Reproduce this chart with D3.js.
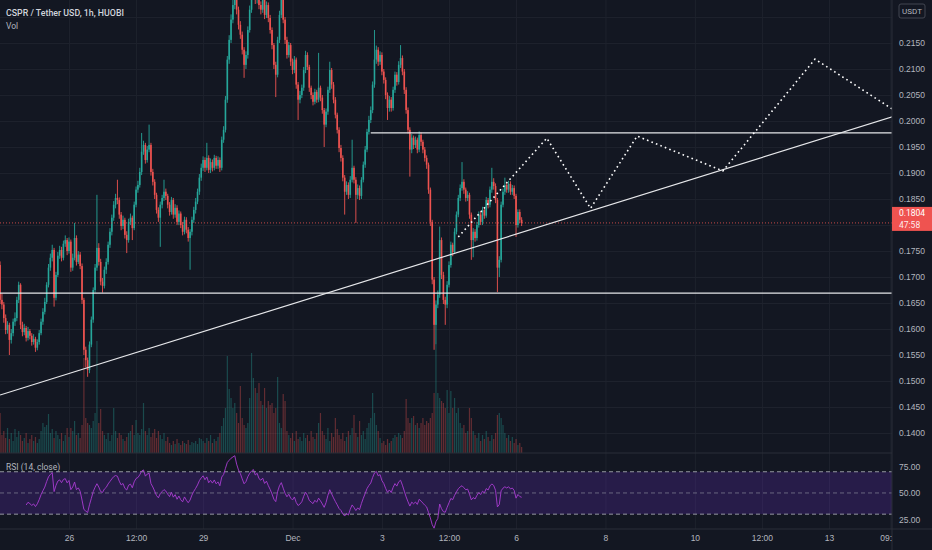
<!DOCTYPE html>
<html lang="en">
<head>
<meta charset="UTF-8">
<title>CSPR / Tether USD, 1h, HUOBI</title>
<style>
  *{margin:0;padding:0;box-sizing:border-box}
  html,body{width:100%;height:100%;background:#131722;overflow:hidden}
  svg{display:block;font-family:Roboto, "Trebuchet MS", sans-serif}
</style>
<script src="https://cdn.jsdelivr.net/npm/d3@7/dist/d3.min.js"></script>
</head>
<body>
<svg id="chart" width="932" height="550"></svg>
<script>
// ---- data: prices in units of 0.0001 USDT, one candle per hour ----
const candleStart = "2021-11-24T11:00:00Z";
const firstOpen = 1723;
const closes = [
  1656,1647,1621,1598,1608,1579,1592,1614,1621,1656,
  1685,1608,1594,1602,1583,1596,1587,1575,1581,1564,
  1575,1592,1614,1633,1652,1685,1718,1737,1752,1660,
  1704,1741,1752,1737,1764,1771,1750,1768,1718,1737,
  1775,1729,1743,1721,1656,1560,1540,1521,1570,1618,
  1675,1718,1756,1729,1691,1683,1714,1729,1762,1787,
  1814,1839,1852,1848,1820,1798,1810,1781,1771,1806,
  1814,1794,1839,1868,1877,1902,1941,1954,1925,1945,
  1954,1902,1883,1858,1829,1814,1839,1852,1864,1856,
  1839,1825,1848,1820,1833,1806,1822,1800,1787,1810,
  1791,1775,1787,1810,1829,1845,1864,1891,1910,1925,
  1910,1929,1906,1921,1910,1929,1914,1925,1910,1964,
  1983,2041,2118,2156,2195,2223,2252,2214,2185,2166,
  2137,2108,2127,2175,2214,2243,2262,2233,2252,2223,
  2214,2233,2204,2223,2198,2175,2146,2108,2089,2156,
  2204,2233,2195,2156,2127,2146,2114,2098,2118,2070,
  2041,2050,2064,2098,2127,2104,2064,2050,2037,2056,
  2041,2064,2045,2021,1993,2018,2060,2098,2070,2041,
  2012,1983,1948,1929,1891,1864,1877,1858,1887,1910,
  1887,1858,1871,1856,1887,1916,1945,1979,2002,2021,
  2070,2118,2137,2114,2127,2095,2079,2050,2025,2041,
  2025,2060,2089,2075,2108,2121,2095,2060,2021,1983,
  1945,1968,1954,1964,1945,1973,1960,1945,1929,1916,
  1868,1806,1695,1608,1647,1666,1771,1704,1656,1647,
  1685,1723,1762,1748,1787,1820,1852,1871,1883,1868,
  1852,1858,1820,1771,1787,1775,1800,1820,1806,1829,
  1818,1848,1839,1868,1883,1875,1848,1718,1733,1839,
  1864,1877,1868,1879,1864,1871,1856,1800,1825,1810,
  1804
];
const highs = [
  1730,1668,1652,1628,1615,1612,1600,1620,1632,1662,
  1691,1688,1614,1610,1606,1604,1600,1592,1590,1585,
  1580,1598,1620,1640,1660,1690,1725,1745,1762,1756,
  1710,1748,1760,1758,1770,1780,1775,1776,1772,1745,
  1804,1780,1750,1748,1726,1660,1566,1545,1576,1624,
  1680,1725,1858,1765,1735,1698,1720,1736,1768,1794,
  1820,1846,1860,1887,1853,1825,1818,1814,1788,1812,
  1822,1818,1845,1874,1885,1910,1977,1962,1958,1952,
  1993,1958,1908,1888,1862,1834,1845,1858,1887,1870,
  1860,1844,1854,1852,1840,1838,1828,1826,1806,1816,
  1815,1796,1792,1816,1835,1852,1870,1898,1918,1932,
  1930,1958,1934,1928,1926,1935,1933,1932,1930,1970,
  1990,2048,2125,2165,2205,2240,2270,2260,2220,2192,
  2172,2142,2134,2182,2222,2255,2280,2268,2262,2258,
  2230,2242,2238,2230,2228,2204,2180,2150,2114,2162,
  2212,2250,2240,2200,2162,2152,2150,2120,2125,2122,
  2075,2058,2070,2104,2135,2132,2108,2068,2055,2062,
  2060,2131,2068,2050,2025,2024,2066,2114,2102,2075,
  2046,2016,1988,1954,1934,1896,1884,1882,1894,1964,
  1914,1892,1878,1876,1892,1922,1952,1985,2010,2028,
  2076,2175,2145,2142,2134,2132,2100,2084,2055,2048,
  2046,2066,2095,2094,2115,2146,2126,2100,2065,2026,
  1988,1975,1972,1970,1968,1980,1978,1964,1950,1934,
  1920,1872,1810,1700,1655,1674,1797,1776,1710,1662,
  1692,1730,1768,1766,1794,1826,1858,1878,1921,1888,
  1872,1865,1862,1824,1794,1792,1806,1826,1825,1835,
  1834,1854,1852,1874,1910,1890,1880,1852,1740,1845,
  1870,1891,1882,1885,1884,1877,1876,1860,1830,1830,
  1815
];
const lows = [
  1648,1638,1612,1590,1591,1550,1572,1586,1606,1615,
  1650,1600,1586,1588,1576,1578,1580,1568,1570,1556,
  1559,1570,1588,1608,1628,1648,1680,1712,1730,1643,
  1655,1700,1735,1730,1732,1758,1742,1745,1710,1712,
  1732,1722,1725,1715,1648,1550,1526,1508,1515,1565,
  1612,1670,1712,1722,1684,1670,1678,1706,1724,1756,
  1780,1808,1832,1840,1812,1790,1792,1774,1746,1766,
  1800,1771,1790,1834,1862,1872,1896,1935,1918,1920,
  1940,1895,1876,1850,1822,1806,1758,1832,1846,1848,
  1832,1818,1820,1812,1814,1800,1800,1794,1780,1782,
  1784,1768,1714,1780,1804,1822,1840,1858,1885,1904,
  1902,1905,1900,1900,1903,1905,1908,1908,1902,1905,
  1958,1978,2035,2110,2150,2188,2215,2205,2176,2158,
  2128,2083,2100,2120,2170,2208,2236,2225,2226,2215,
  2205,2208,2196,2198,2190,2168,2138,2100,2046,2084,
  2150,2198,2188,2148,2120,2122,2106,2090,2092,2062,
  2002,2034,2044,2058,2092,2098,2056,2042,2030,2032,
  2035,2036,2038,2014,1950,1988,2012,2054,2062,2034,
  2005,1976,1940,1922,1884,1820,1858,1850,1852,1882,
  1880,1804,1850,1848,1850,1882,1910,1940,1974,1996,
  2015,2064,2110,2106,2108,2088,2072,2042,2002,2018,
  2018,2020,2054,2068,2070,2102,2088,2052,2014,1976,
  1893,1938,1946,1948,1938,1940,1952,1938,1922,1908,
  1860,1798,1686,1560,1570,1640,1660,1696,1648,1608,
  1640,1680,1718,1740,1744,1782,1815,1846,1866,1860,
  1845,1846,1812,1733,1738,1768,1770,1795,1800,1800,
  1812,1814,1832,1834,1862,1868,1842,1671,1700,1728,
  1834,1858,1862,1862,1858,1858,1850,1777,1795,1804,
  1798
];
// volume, thousands of CSPR
const volumes = [
  40,18,22,15,25,14,20,12,24,16,
  22,18,12,15,20,10,14,18,12,16,
  10,14,22,30,26,28,39,20,24,15,
  22,18,14,20,12,18,25,16,25,22,
  32,18,20,15,28,95,35,30,28,25,
  32,40,112,30,44,22,18,14,20,12,
  18,45,22,15,20,18,14,12,16,20,
  22,28,18,33,20,18,24,50,22,18,
  25,16,20,24,15,22,18,14,20,12,
  16,10,8,12,9,14,10,8,12,10,
  9,13,8,11,10,12,9,15,14,12,
  10,15,12,18,10,14,12,16,20,27,
  35,45,97,64,55,45,50,40,30,67,
  35,28,25,30,55,100,75,65,60,70,
  52,48,65,45,52,48,50,40,45,76,
  30,25,59,52,22,18,15,20,12,22,
  14,16,12,20,15,18,12,22,16,14,
  20,30,40,22,18,14,25,12,20,16,
  35,24,18,14,20,12,16,22,18,25,
  38,20,16,32,18,22,14,25,30,35,
  60,40,28,22,15,10,12,8,14,10,
  12,15,18,16,20,18,15,22,54,35,
  30,35,37,28,30,25,30,35,28,32,
  30,35,40,60,108,60,55,52,50,45,
  63,40,62,45,55,40,45,30,25,28,
  20,22,45,35,22,18,15,20,12,18,
  14,22,16,12,18,14,20,38,40,35,
  28,20,15,18,12,16,10,14,8,10,
  6
];

const viewRange = ["2021-11-24T10:57:36Z", "2021-12-14T09:50:00Z"];
const timeTicks = ["2021-11-26T00:00Z","2021-11-27T12:00Z","2021-11-29T00:00Z","2021-12-01T00:00Z",
  "2021-12-03T00:00Z","2021-12-04T12:00Z","2021-12-06T00:00Z","2021-12-08T00:00Z",
  "2021-12-10T00:00Z","2021-12-11T12:00Z","2021-12-13T00:00Z","2021-12-14T09:00Z"];
const timeLabels = ["26","12:00","29","Dec","3","12:00","6","8","10","12:00","13","09:00"];
const priceGrid = [0.1400,0.1450,0.1500,0.1550,0.1600,0.1650,0.1700,0.1750,0.1800,
  0.1850,0.1900,0.1950,0.2000,0.2050,0.2100,0.2150,0.2200];
// labels hidden by the last-price tag and the currency box are left out
const priceLabels = [0.1400,0.1450,0.1500,0.1550,0.1600,0.1650,0.1700,0.1750,
  0.1850,0.1900,0.1950,0.2000,0.2050,0.2100,0.2150];
const rsiTicks = [25, 50, 75];
const rsiLevels = [70, 50, 30];

// drawings
const supportLevel = 0.1669;
const resistanceLevel = 0.1977, resistanceFrom = "2021-12-02T18:00Z";
const trendLine = [["2021-11-24T11:00Z", 0.1473], ["2021-12-14T10:00Z", 0.2008]];
const projection = [["2021-12-04T17:00Z",0.1777],["2021-12-06T16:30Z",0.1967],["2021-12-07T16:00Z",0.1832],
  ["2021-12-08T17:00Z",0.1971],["2021-12-10T15:00Z",0.1904],["2021-12-12T16:30Z",0.2119],
  ["2021-12-14T10:00Z",0.2023]];
const lastPrice = 0.1804, countdown = "47:58";

// ---- layout ----
const W = 932, plotW = 892, mainH = 453, rsiTop = 453, rsiBottom = 529;
const UP = "#26a69a", DOWN = "#ef5350", TXT = "#b2b5be", GRID = "#1e222d";

const svg = d3.select("#chart");
const x = d3.scaleUtc().domain(viewRange.map(d => new Date(d))).range([0, plotW]);
const y = d3.scaleLinear().domain([0.136154, 0.223269]).range([mainH, 0]);
const yv = d3.scaleLinear().domain([0, 140]).range([mainH, mainH - 140]);
const yr = d3.scaleLinear().domain([16, 87.7]).range([rsiBottom, rsiTop]);

const t0 = +new Date(candleStart);
const candles = closes.map((c, i) => ({
  t: new Date(t0 + i * 3600e3),
  o: (i ? closes[i - 1] : firstOpen) / 1e4,
  h: highs[i] / 1e4, l: lows[i] / 1e4, c: c / 1e4, v: volumes[i]
}));

// RSI(14), Wilder smoothing
const rsi = [];
(function(n = 14){
  let ag = 0, al = 0;
  for (let i = 1; i < candles.length; i++) {
    const ch = candles[i].c - candles[i - 1].c,
          g = Math.max(ch, 0), l = Math.max(-ch, 0);
    if (i <= n) { ag += g / n; al += l / n; }
    else { ag = (ag * (n - 1) + g) / n; al = (al * (n - 1) + l) / n; }
    if (i >= n) rsi.push({ t: candles[i].t, v: al === 0 ? 100 : 100 - 100 / (1 + ag / al) });
  }
})();

svg.append("rect").attr("width", W).attr("height", 550).attr("fill", "#131722");

const defs = svg.append("defs");
defs.append("clipPath").attr("id", "clipMain").append("rect")
  .attr("width", plotW).attr("height", mainH);
defs.append("clipPath").attr("id", "clipTime").append("rect")
  .attr("y", rsiBottom).attr("width", plotW).attr("height", 21);

// grid
const tickDates = timeTicks.map(d => new Date(d));
svg.append("g").attr("transform", `translate(0,${rsiBottom})`)
  .call(d3.axisBottom(x).tickValues(tickDates).tickSize(-rsiBottom).tickFormat(""))
  .call(g => g.select(".domain").remove())
  .call(g => g.selectAll("line").attr("stroke", GRID));
svg.append("g")
  .call(d3.axisLeft(y).tickValues(priceGrid).tickSize(-plotW).tickFormat(""))
  .call(g => g.select(".domain").remove())
  .call(g => g.selectAll("line").attr("stroke", GRID));

// RSI pane
svg.append("rect").attr("x", 0).attr("width", plotW)
  .attr("y", yr(70)).attr("height", yr(30) - yr(70))
  .attr("fill", "rgba(105,45,200,0.24)");
svg.append("g").selectAll("line").data(rsiLevels).join("line")
  .attr("x1", 0).attr("x2", plotW)
  .attr("y1", d => yr(d)).attr("y2", d => yr(d))
  .attr("stroke", d => d === 50 ? "rgba(149,152,161,0.6)" : "#9598a1")
  .attr("stroke-dasharray", "4 3");
svg.append("path").datum(rsi)
  .attr("fill", "none").attr("stroke", "#a93cd3").attr("stroke-width", 0.9)
  .attr("d", d3.line().x(d => x(d.t)).y(d => yr(d.v)));

// main pane
const main = svg.append("g").attr("clip-path", "url(#clipMain)");
main.append("g").selectAll("rect").data(candles).join("rect")
  .attr("x", d => x(d.t) - 0.6).attr("width", 1.2)
  .attr("y", d => yv(d.v)).attr("height", d => mainH - yv(d.v))
  .attr("fill", d => d.c >= d.o ? UP : DOWN).attr("fill-opacity", 0.36);

const cg = main.append("g");
cg.selectAll("line").data(candles).join("line")
  .attr("x1", d => x(d.t)).attr("x2", d => x(d.t))
  .attr("y1", d => y(d.h)).attr("y2", d => y(d.l))
  .attr("stroke", d => d.c >= d.o ? UP : DOWN).attr("stroke-width", 0.9);
cg.selectAll("rect").data(candles).join("rect")
  .attr("x", d => x(d.t) - 0.8).attr("width", 1.6)
  .attr("y", d => y(Math.max(d.o, d.c)))
  .attr("height", d => Math.max(1, Math.abs(y(d.o) - y(d.c))))
  .attr("fill", d => d.c >= d.o ? UP : DOWN);

// last price line
main.append("line").attr("x1", 0).attr("x2", plotW)
  .attr("y1", y(lastPrice)).attr("y2", y(lastPrice))
  .attr("stroke", DOWN).attr("stroke-opacity", 0.8).attr("stroke-dasharray", "1 2");

// drawings
const LINE = "#e6e7ea";
const lineGen = d3.line().x(d => x(new Date(d[0]))).y(d => y(d[1]));
main.append("path").datum(trendLine).attr("d", lineGen)
  .attr("stroke", LINE).attr("stroke-width", 1.2).attr("fill", "none");
main.append("line").attr("x1", 0).attr("x2", plotW)
  .attr("y1", y(supportLevel)).attr("y2", y(supportLevel))
  .attr("stroke", LINE).attr("stroke-width", 1.2);
main.append("line").attr("x1", x(new Date(resistanceFrom))).attr("x2", plotW)
  .attr("y1", y(resistanceLevel)).attr("y2", y(resistanceLevel))
  .attr("stroke", LINE).attr("stroke-width", 1.2);
main.append("path").datum(projection).attr("d", lineGen)
  .attr("stroke", "#ffffff").attr("stroke-width", 1.6).attr("fill", "none")
  .attr("stroke-dasharray", "1.6 3.2");

// separators
svg.append("line").attr("x1", 0).attr("x2", plotW).attr("y1", mainH).attr("y2", mainH)
  .attr("stroke", "#2a2e39");
svg.append("line").attr("x1", 0).attr("x2", W).attr("y1", rsiBottom).attr("y2", rsiBottom)
  .attr("stroke", "#2a2e39");
svg.append("line").attr("x1", plotW).attr("x2", plotW).attr("y1", 0).attr("y2", 550)
  .attr("stroke", "#2a2e39");

// axes
function styleAxis(g){
  g.select(".domain").remove();
  g.selectAll("text").attr("fill", TXT).attr("font-size", "8.5px");
}
svg.append("g").attr("transform", `translate(${plotW},0)`)
  .call(d3.axisRight(y).tickValues(priceLabels).tickSize(0).tickPadding(7).tickFormat(d3.format(".4f")))
  .call(styleAxis);
svg.append("g").attr("transform", `translate(${plotW},0)`)
  .call(d3.axisRight(yr).tickValues(rsiTicks).tickSize(0).tickPadding(7).tickFormat(d3.format(".2f")))
  .call(styleAxis);
svg.append("g").attr("clip-path", "url(#clipTime)")
  .append("g").attr("transform", `translate(0,${rsiBottom})`)
  .call(d3.axisBottom(x).tickValues(tickDates).tickSize(0).tickPadding(6).tickFormat((d, i) => timeLabels[i]))
  .call(styleAxis);

// currency box
svg.append("rect").attr("x", 899).attr("y", 4).attr("width", 26).attr("height", 14).attr("rx", 2)
  .attr("fill", "#131722").attr("stroke", "#434651");
svg.append("text").attr("x", 912).attr("y", 14).attr("text-anchor", "middle")
  .attr("fill", TXT).attr("font-size", "8px").text("USDT");

// last price label
const ly = y(lastPrice);
svg.append("rect").attr("x", plotW).attr("y", ly - 16).attr("width", W - plotW).attr("height", 24)
  .attr("fill", DOWN);
svg.append("text").attr("x", 899).attr("y", ly - 7).attr("fill", "#fff").attr("font-size", "8.5px")
  .text(d3.format(".4f")(lastPrice));
svg.append("text").attr("x", 899).attr("y", ly + 5).attr("fill", "#fff").attr("font-size", "8.5px")
  .attr("fill-opacity", 0.9).text(countdown);

// legends
svg.append("text").attr("x", 6).attr("y", 16).attr("fill", "#d1d4dc").attr("font-size", "8.8px")
  .attr("font-weight", 500).text("CSPR / Tether USD, 1h, HUOBI");
svg.append("text").attr("x", 6).attr("y", 29).attr("fill", TXT).attr("font-size", "8.5px").text("Vol");
svg.append("text").attr("x", 6).attr("y", 470).attr("fill", TXT).attr("font-size", "8.5px").text("RSI (14, close)");
</script>
</body>
</html>
